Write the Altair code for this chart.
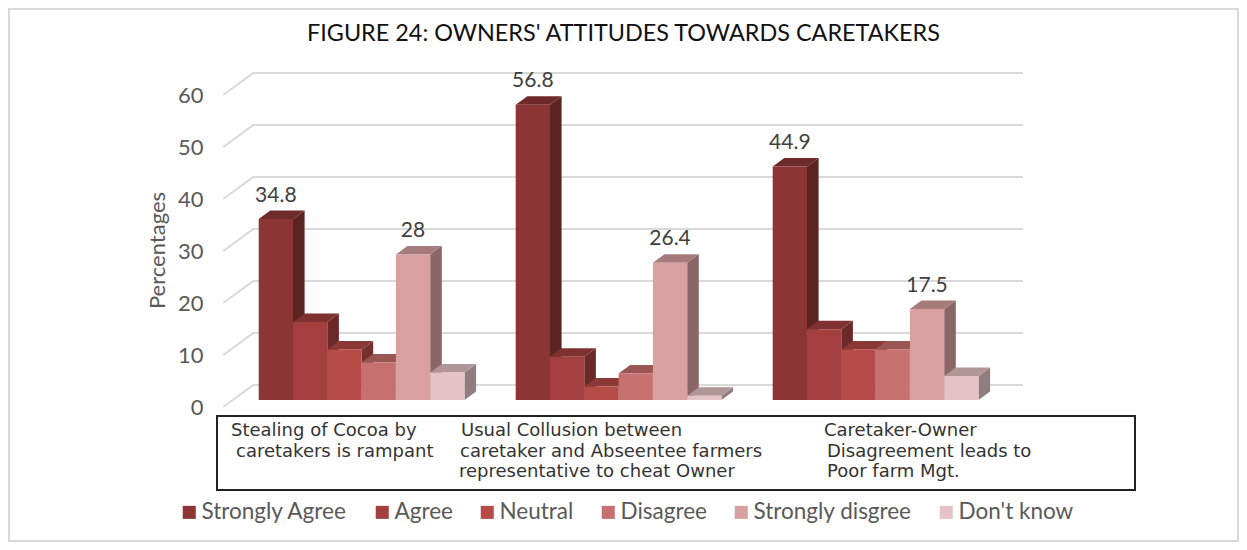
import altair as alt
import pandas as pd

# ---- chart values ----
TITLE = "FIGURE 24: OWNERS' ATTITUDES TOWARDS CARETAKERS"
SERIES = ["Strongly Agree", "Agree", "Neutral", "Disagree", "Strongly disgree", "Don't know"]
STEALING = [34.8, 15.0, 9.7, 7.2, 28, 5.3]
COLLUSION = [56.8, 8.3, 2.6, 5.1, 26.4, 0.8]
DISAGREEMENT = [44.9, 13.6, 9.7, 9.7, 17.5, 4.6]
LABELLED = ["Strongly Agree", "Strongly disgree"]
TICKS = [0, 10, 20, 30, 40, 50, 60]
CAT_LINES = [
    ["Stealing of Cocoa by", "caretakers is rampant"],
    ["Usual Collusion between", "caretaker and Abseentee farmers", "representative to cheat Owner"],
    ["Caretaker-Owner", "Disagreement leads to", "Poor farm Mgt."],
]

# ---- styles ----
FRONT = ["#8B3635", "#A43F3F", "#B64B48", "#C77070", "#D8A1A0", "#E5C2C5"]
TOP = ["#6E2A29", "#7F3131", "#8B3836", "#9A5655", "#A67C7B", "#B09696"]
SIDE = ["#5C2421", "#6B2A29", "#752F2D", "#7F4A49", "#8A6666", "#917D7E"]
GRID = "#D9D9D9"
TEXT = "#595959"
FONT = "Lato"

# ---- layout ----
W, H, PAD_TOP = 1231, 482, 52
PX_LEFT, PAGE_TOP = 8, 60
PPU = 5.2                       # px per percentage point
ZERO = 407                      # page y of 0 on the front plane
Y_DOM = [-(PAGE_TOP + H - ZERO) / PPU, (ZERO - PAGE_TOP) / PPU]
X_DOM = [PX_LEFT, PX_LEFT + W]
GROUP_X = [258.7, 515.7, 772.7]
BAR_W = 34.3
DX, DY = 11.6, 8.5 / PPU        # bar depth
BASE = 7 / PPU                  # bars stand 7px behind the front edge
WALL_DX, WALL_DY = 30, 22 / PPU
WALL_L, WALL_R = 223.3, 1023
CAT_X = [[231, 236], [461, 460, 459], [824, 827, 827]]
CAT_Y = [431, 452, 472]

# ---- derived tables ----
grid_rows = []
for t in TICKS:
    for x, y in [(WALL_L, t), (WALL_L + WALL_DX, t + WALL_DY), (WALL_R, t + WALL_DY)]:
        grid_rows.append({"x": x, "y": y, "tick": t})

faces, labels = [], []
for g, vals in enumerate([STEALING, COLLUSION, DISAGREEMENT]):
    for i, (name, v) in enumerate(zip(SERIES, vals)):
        x0 = GROUP_X[g] + i * BAR_W
        x1 = x0 + BAR_W
        top = v + BASE
        bid = f"{g}-{i}"
        for x, hi, lo in [(x1, top, BASE), (x1 + DX, top + DY, BASE + DY)]:
            faces.append({"x": x, "y": hi, "y2": lo, "key": name + " side", "id": bid + "s"})
        for x, hi, lo in [(x0, top, top), (x0 + DX, top + DY, top), (x1, top + DY, top), (x1 + DX, top + DY, top + DY)]:
            faces.append({"x": x, "y": hi, "y2": lo, "key": name + " top", "id": bid + "t"})
        for x in (x0, x1):
            faces.append({"x": x, "y": top, "y2": BASE, "key": name, "id": bid + "f"})
        if name in LABELLED:
            labels.append({"x": (x0 + x1) / 2, "y": top, "t": f"{v:g}"})

cat_rows = []
for g, lines in enumerate(CAT_LINES):
    for j, line in enumerate(lines):
        cat_rows.append({"px": CAT_X[g][j] - PX_LEFT, "py": CAT_Y[j] - PAGE_TOP, "t": line})

x_enc = alt.X("x:Q", scale=alt.Scale(domain=X_DOM, nice=False, zero=False), axis=None)
y_enc = alt.Y(
    "y:Q",
    stack=None,
    scale=alt.Scale(domain=Y_DOM, nice=False, zero=False),
    axis=alt.Axis(
        values=TICKS, grid=False, domain=False, ticks=False, labelPadding=0, offset=-195,
        labelFont=FONT, labelFontSize=22, labelColor=TEXT,
        title="Percentages", titleFont=FONT, titleFontSize=22, titleFontWeight="normal",
        titleColor=TEXT, titleAngle=-90, titleX=-46, titleY=190, titleAlign="center",
        titleBaseline="middle",
    ),
)

frame = alt.Chart(pd.DataFrame({"k": [0]})).mark_rect(
    fillOpacity=0, stroke=GRID, strokeWidth=2
).encode(
    x=alt.value(1), x2=alt.value(W - 1), y=alt.value(-PAD_TOP + 1), y2=alt.value(H - 1)
)

grid = alt.Chart(pd.DataFrame(grid_rows)).mark_line(color=GRID, strokeWidth=2).encode(
    x=x_enc, y=y_enc, detail="tick:N", order="x:Q"
)

domain = SERIES + [s + " top" for s in SERIES] + [s + " side" for s in SERIES]
bars = alt.Chart(pd.DataFrame(faces)).mark_area(orient="vertical", interpolate="linear").encode(
    x=alt.X("x:Q", scale=alt.Scale(domain=X_DOM, nice=False, zero=False), axis=None),
    y=alt.Y("y:Q", stack=None, scale=alt.Scale(domain=Y_DOM, nice=False, zero=False)),
    y2="y2:Q",
    detail="id:N",
    color=alt.Color(
        "key:N",
        scale=alt.Scale(domain=domain, range=FRONT + TOP + SIDE),
        legend=alt.Legend(
            values=SERIES, title=None, orient="none", legendX=170, legendY=441,
            direction="horizontal", columns=6, columnPadding=23, symbolType="square",
            symbolSize=170, symbolStrokeWidth=0, symbolOpacity=1, labelFont=FONT,
            labelFontSize=22.5, labelColor=TEXT, labelOffset=1, labelLimit=300,
        ),
    ),
)

value_labels = alt.Chart(pd.DataFrame(labels)).mark_text(
    font=FONT, fontSize=21, color="#404040", baseline="middle", dy=-23.5
).encode(x=alt.X("x:Q", axis=None), y=alt.Y("y:Q", stack=None), text="t:N")

box = alt.Chart(pd.DataFrame({"k": [0]})).mark_rect(
    fill="white", stroke="#222222", strokeWidth=2
).encode(
    x=alt.value(217 - PX_LEFT), x2=alt.value(1135 - PX_LEFT),
    y=alt.value(416 - PAGE_TOP), y2=alt.value(490 - PAGE_TOP),
)

cats = alt.Chart(pd.DataFrame(cat_rows)).mark_text(
    font="DejaVu Sans", fontSize=18, color="#333333", align="left", baseline="middle"
).encode(
    x=alt.X("px:Q", scale=None, axis=None),
    y=alt.Y("py:Q", scale=None, axis=None),
    text="t:N",
)

chart = alt.layer(frame, grid, bars, value_labels, box, cats).properties(
    width=W,
    height=H,
    padding={"left": 0, "top": PAD_TOP, "right": 0, "bottom": 0},
    autosize=alt.AutoSizeParams(type="none"),
    title=alt.TitleParams(
        TITLE, font=FONT, fontSize=23.4, fontWeight="normal", color="#111111",
        anchor="middle", offset=-38,
    ),
    background="white",
).configure_view(stroke=None)

chart.save("out.html", embed_options={"renderer": "svg", "actions": False})
